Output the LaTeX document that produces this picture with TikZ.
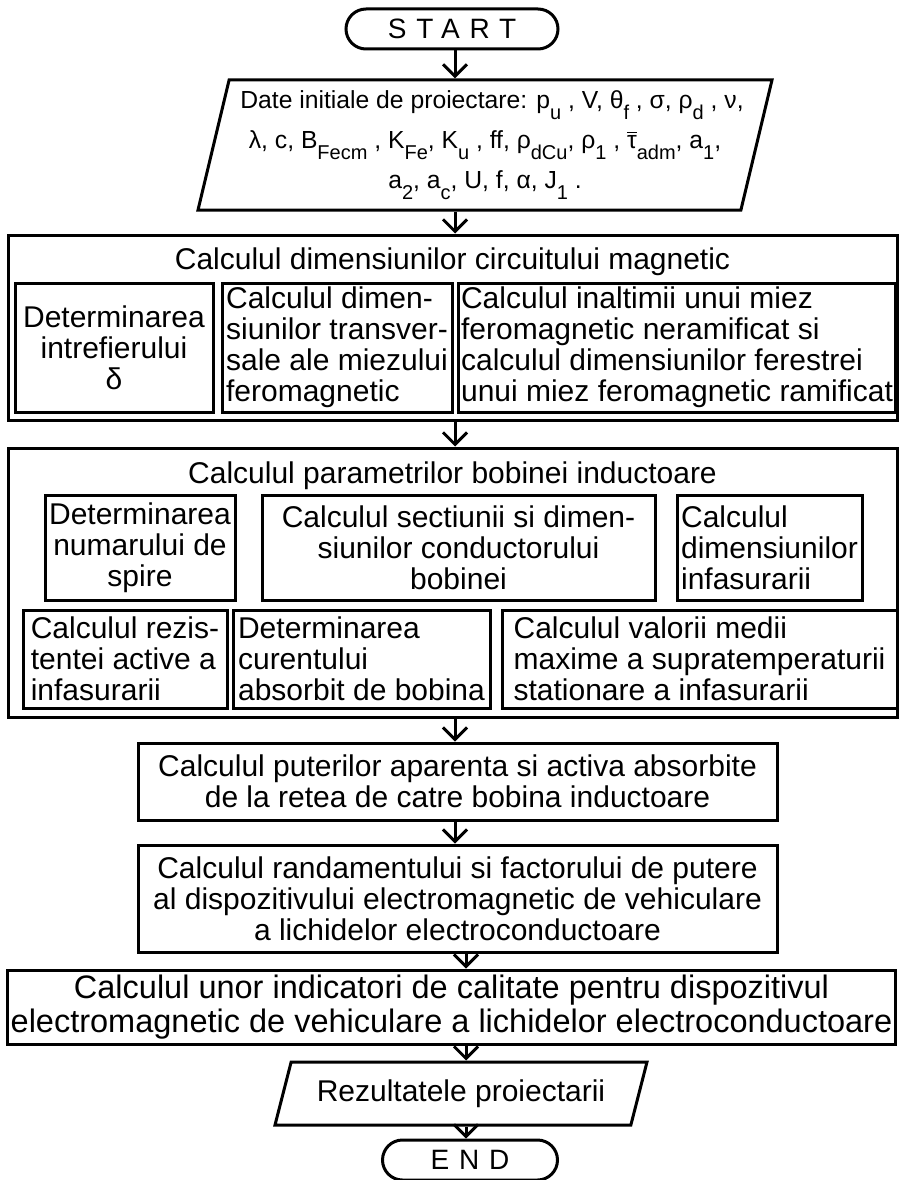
\documentclass[tikz,border=0pt]{standalone}
\usepackage{fontspec}
\setmainfont{Liberation Sans}
\usetikzlibrary{arrows.meta}
\usetikzlibrary{shapes.geometric,shapes.misc}
\newcommand\low[1]{\raisebox{-0.42em}{\fontsize{20}{20}\selectfont #1}}
\newcommand\taubar{\rlap{\raisebox{0.62em}{\rule{0.4em}{1.6pt}}}τ}
\newcommand\zl[1]{\makebox[0pt]{#1}}% line that may run into the slanted sides

\begin{document}
\begin{tikzpicture}[
		x=1pt, y=-1pt,
		font=\fontsize{30}{31}\selectfont,
		line width=3pt,
		T/.style = {rounded rectangle, draw, inner sep=0pt,% start / end
			minimum width=#1, minimum height=40pt,
			font=\fontsize{28}{28}\selectfont\addfontfeature{LetterSpace=35}},
		IO/.style = {trapezium, draw, trapezium stretches body,% data in / out
			trapezium left angle=#1, trapezium right angle=180-#1,
			inner sep=0pt, align=center},
		X/.style = {rectangle, draw, inner sep=3pt, align=center},
		Y/.style = {rectangle, draw, inner sep=3pt, align=left},
		sz/.style 2 args = {minimum width=#1, minimum height=#2},
		arr/.style = {-{Straight Barb[length=12pt,width=24pt]}},
		]
		\useasboundingbox (0,0) rectangle (903,1180);
		\coordinate (ax) at (455,0);
		\coordinate (bx) at (466,0);
		
		\node[T=212pt] (S) at (452,29) {START};
		\node[IO=74, sz={574pt}{130pt}, font=\fontsize{24.7}{40}\selectfont] (D) at (485,145)
		{\zl{\hspace{14pt}Date initiale de proiectare: p\low{u} , V, θ\low{f} , σ, ρ\low{d} , ν,}\\
			\zl{λ, c, B\low{Fecm} , K\low{Fe}, K\low{u} , ff, ρ\low{dCu}, ρ\low{1} , \taubar\low{adm}, a\low{1},}\\
			\zl{a\low{2}, a\low{c}, U, f, α, J\low{1} .}};
		
		% circuitul magnetic
		\node[X, sz={889pt}{185pt}] (C) at (452.5,327.5) {};
		\node (Ct) at (452.5,262) {Calculul dimensiunilor circuitului magnetic};
		\node[X, sz={198pt}{129pt}] (C1) at (114,347.5) {Determinarea\\intrefierului\\δ};
		\node[Y, sz={230pt}{129pt}] (C2) at (337,347.5) {Calculul dimen-\\siunilor transver-\\sale ale miezului\\feromagnetic};
		\node[Y, sz={432pt}{129pt}] (C3) at (677,347.5) {Calculul inaltimii unui miez\\feromagnetic neramificat si\\calculul dimensiunilor ferestrei\\unui miez feromagnetic ramificat};
		
		% bobina inductoare
		\node[X, sz={889pt}{269pt}] (B) at (452.5,582.5) {};
		\node (Bt) at (452.5,476) {Calculul parametrilor bobinei inductoare};
		\node[X, sz={190pt}{105pt}] (B1) at (140,547.5) {Determinarea\\numarului de\\spire};
		\node[X, sz={393pt}{105pt}] (B2) at (458.5,547.5) {Calculul sectiunii si dimen-\\siunilor conductorului\\bobinei};
		\node[Y, sz={185pt}{105pt}] (B3) at (769.5,547.5) {Calculul\\dimensiunilor\\infasurarii};
		\node[Y, sz={204pt}{98pt}] (B4) at (125,659) {Calculul rezis-\\tentei active a\\infasurarii};
		\node[Y, sz={257pt}{98pt}] (B5) at (361.5,659) {Determinarea\\curentului\\absorbit de bobina};
		\node[Y, sz={395pt}{98pt}] (B6) at (699.5,659) {Calculul valorii medii\\maxime a supratemperaturii\\stationare a infasurarii};
		
		\node[X, sz={639pt}{77pt}] (P) at (457.5,781.5) {Calculul puterilor aparenta si activa absorbite\\de la retea de catre bobina inductoare};
		\node[X, sz={639pt}{107pt}] (R) at (457.5,898.5) {Calculul randamentului si factorului de putere\\al dispozitivului electromagnetic de vehiculare\\a lichidelor electroconductoare};
		\node[X, sz={887pt}{74pt}, font=\fontsize{32.5}{34}\selectfont] (Q) at (451.5,1007) {Calculul unor indicatori de calitate pentru dispozitivul\\electromagnetic de vehiculare a lichidelor electroconductoare};
		\node[IO=60, sz={372pt}{63pt}] (O) at (461,1093.5) {Rezultatele proiectarii};
		\node[T=175pt] (E) at (470,1160) {END};
		
		\foreach \a/\b/\x in {S/D/ax, D/C/ax, C/B/ax, B/P/ax, P/R/ax, R/Q/bx, Q/O/bx, O/E/bx}
		\draw[arr] (\a.south -| \x) -- (\b.north -| \x);
	\end{tikzpicture}
\end{document}
